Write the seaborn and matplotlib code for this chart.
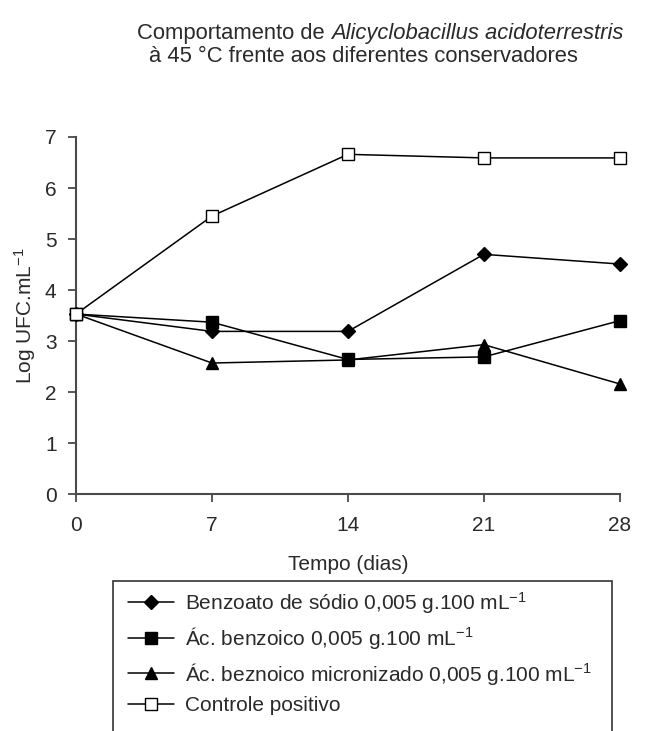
"""
Alicyclobacillus acidoterrestris at 45 C with different preservatives.
"""

import matplotlib
matplotlib.use('Agg')
import matplotlib.pyplot as plt
import pandas as pd
import seaborn as sns

days = [0, 7, 14, 21, 28]
benzoato = [3.53, 3.19, 3.19, 4.70, 4.51]
ac_benzoico = [3.53, 3.37, 2.64, 2.69, 3.40]
ac_micronizado = [3.53, 2.57, 2.63, 2.93, 2.16]
controle = [3.53, 5.45, 6.66, 6.59, 6.59]

labels = [
    'Benzoato de sódio 0,005 g.100 mL$^{-1}$',
    'Ác. benzoico 0,005 g.100 mL$^{-1}$',
    'Ác. beznoico micronizado 0,005 g.100 mL$^{-1}$',
    'Controle positivo',
]
series = [benzoato, ac_benzoico, ac_micronizado, controle]
markers = ['D', 's', '^', 's']
marker_sizes = [7, 9, 9, 9]
face_colors = ['black', 'black', 'black', 'white']


def main():
    sns.set_style('ticks')
    plt.rcParams['font.family'] = ['Liberation Sans', 'DejaVu Sans']
    plt.rcParams['mathtext.fontset'] = 'custom'
    plt.rcParams['mathtext.rm'] = 'Liberation Sans'
    plt.rcParams['mathtext.it'] = 'Liberation Sans:italic'
    plt.rcParams['mathtext.default'] = 'regular'

    text_color = '#2a2a2a'
    axis_color = '#4a4a4a'
    fs = 15

    fig = plt.figure(figsize=(6.52, 7.31), dpi=100)
    ax = fig.add_axes([0.1166, 0.324, 0.834, 0.4886])

    # Draw each series as its own line
    for lab, vals, mk, ms, fc in zip(labels, series, markers, marker_sizes, face_colors):
        df = pd.DataFrame({'dia': days, 'log': vals})
        sns.lineplot(data=df, x='dia', y='log', ax=ax, color='black', lw=1.1,
                     marker=mk, markersize=ms, markerfacecolor=fc,
                     markeredgecolor='black', markeredgewidth=1.0, label=lab,
                     clip_on=False, zorder=3)

    ax.set_xlim(0, 28)
    ax.set_ylim(0, 7)
    ax.set_xticks(days)
    ax.set_yticks(range(8))
    ax.tick_params(labelsize=fs, colors=axis_color, labelcolor=text_color,
                   length=6, width=1.3)
    ax.tick_params(axis='x', pad=10)
    ax.tick_params(axis='y', pad=8)
    for side in ['top', 'right']:
        ax.spines[side].set_visible(False)
    for side in ['left', 'bottom']:
        ax.spines[side].set_color(axis_color)
        ax.spines[side].set_linewidth(1.5)

    ax.set_xlabel('Tempo (dias)', fontsize=fs, color=text_color, labelpad=14)
    ax.set_ylabel('Log UFC.mL$^{-1}$', fontsize=fs, color=text_color, labelpad=5)

    # Title: first line has an italic species name
    tfs = 15.8
    renderer = fig.canvas.get_renderer()
    t1 = fig.text(0, 0, 'Comportamento de ', fontsize=tfs, color=text_color)
    t2 = fig.text(0, 0, 'Alicyclobacillus acidoterrestris', fontsize=tfs,
                  style='italic', color=text_color)
    w1 = t1.get_window_extent(renderer).width
    w2 = t2.get_window_extent(renderer).width
    x0 = 380 - (w1 + w2) / 2
    t1.set_position((x0 / 652, 1 - 33 / 731))
    t2.set_position(((x0 + w1) / 652, 1 - 33 / 731))
    t1.set_va('center')
    t2.set_va('center')
    fig.text(363 / 652, 1 - 56 / 731, 'à 45 °C frente aos diferentes conservadores',
             ha='center', va='center', fontsize=tfs, color=text_color)

    # Legend box running off the bottom of the figure
    box = plt.Rectangle((113 / 652, -0.05), (612 - 113) / 652, 0.05 + (731 - 581) / 731,
                        transform=fig.transFigure, fill=False,
                        edgecolor='#333333', lw=1.2)
    fig.patches.append(box)
    handles, leg_labels = ax.get_legend_handles_labels()
    fig.legend(handles, leg_labels, loc='upper left',
               bbox_to_anchor=(128 / 652, 1 - 590 / 731),
               frameon=False, fontsize=fs, handlelength=2.2,
               labelspacing=0.45, handletextpad=0.55, borderaxespad=0,
               borderpad=0, labelcolor=text_color)
    ax.get_legend().remove()

    fig.savefig('out.png', dpi=100)


if __name__ == '__main__':
    main()
